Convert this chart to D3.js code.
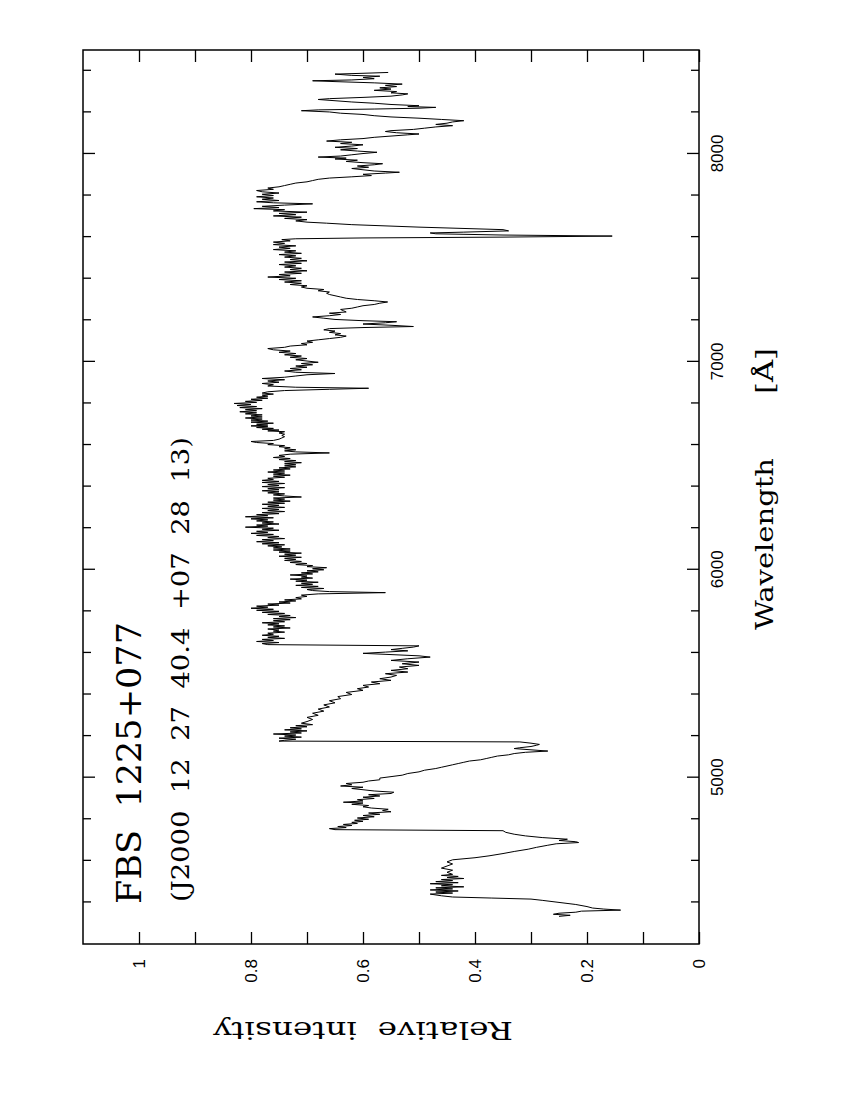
<!DOCTYPE html>
<html>
<head>
<meta charset="utf-8">
<script src="https://cdn.jsdelivr.net/npm/d3@7"></script>
<style>
  html, body { margin: 0; padding: 0; background: #fff; }
  svg { display: block; }
</style>
</head>
<body>
<svg id="chart" width="850" height="1100"></svg>
<script>
// ---- data (wavelength in Angstrom, relative intensity) ----
const spectrum = [
  [4333,0.25],[4338,0.23],[4343,0.26],[4348,0.25],[4353,0.22],[4358,0.21],[4363,0.14],[4368,0.17],[4373,0.19],[4380,0.20],[4390,0.22],[4400,0.25],[4410,0.28],[4416,0.30],[4421,0.37],[4426,0.44],[4432,0.46],[4440,0.48],
  [4445,0.44],[4450,0.47],[4455,0.43],[4460,0.48],[4465,0.44],[4470,0.47],[4475,0.42],[4480,0.46],[4485,0.44],[4490,0.48],[4495,0.43],[4500,0.47],[4505,0.44],[4510,0.46],[4515,0.42],[4520,0.45],[4525,0.43],[4530,0.46],[4535,0.44],[4545,0.45],[4555,0.44],[4565,0.46],[4575,0.45],[4585,0.44],[4595,0.45],
  [4605,0.44],[4615,0.40],[4624,0.375],[4635,0.35],[4645,0.33],[4656,0.305],[4665,0.29],[4675,0.27],[4682,0.255],[4688,0.215],[4692,0.22],[4698,0.25],[4704,0.235],[4712,0.28],[4720,0.31],[4728,0.33],[4737,0.345],[4745,0.35],[4750,0.65],
  [4755,0.66],[4760,0.63],[4765,0.645],[4770,0.62],[4775,0.635],[4780,0.61],[4785,0.62],[4790,0.60],[4795,0.615],[4800,0.59],[4806,0.61],[4812,0.58],[4818,0.60],[4824,0.57],[4830,0.59],[4836,0.55],[4842,0.565],[4848,0.555],[4854,0.585],[4860,0.60],[4866,0.59],[4872,0.62],[4878,0.60],[4882,0.635],[4888,0.60],[4894,0.61],[4900,0.58],[4906,0.60],[4912,0.57],[4918,0.59],[4924,0.55],[4930,0.545],[4936,0.58],[4942,0.60],[4948,0.62],[4954,0.60],[4960,0.64],[4966,0.62],[4972,0.63],[4978,0.60],[4984,0.59],[4990,0.57],
  [4998,0.57],[5005,0.55],[5012,0.53],[5020,0.52],[5028,0.50],[5036,0.49],[5044,0.47],[5050,0.46],[5056,0.45],[5062,0.44],[5068,0.43],[5074,0.42],[5080,0.41],[5086,0.39],[5092,0.38],[5098,0.37],[5104,0.36],[5110,0.34],[5116,0.33],[5122,0.31],[5128,0.27],[5134,0.30],[5140,0.33],[5144,0.32],[5150,0.30],[5156,0.29],[5160,0.285],[5166,0.30],[5172,0.32],[5176,0.75],
  [5180,0.74],[5185,0.72],[5190,0.75],[5195,0.71],[5200,0.74],[5205,0.72],[5210,0.76],[5215,0.71],[5220,0.73],[5225,0.70],[5230,0.74],[5235,0.71],[5240,0.73],[5245,0.70],[5250,0.72],[5255,0.69],[5262,0.71],
  [5270,0.70],[5280,0.69],[5290,0.70],[5300,0.68],[5310,0.69],[5320,0.67],[5330,0.68],[5340,0.66],[5350,0.67],[5360,0.65],[5370,0.66],[5380,0.64],[5390,0.645],[5400,0.62],[5410,0.63],[5420,0.60],[5428,0.61],[5436,0.59],[5444,0.60],[5452,0.57],[5460,0.585],[5468,0.55],[5476,0.57],[5484,0.55],[5492,0.54],[5500,0.56],[5508,0.52],[5516,0.55],[5524,0.52],[5532,0.535],[5540,0.50],[5548,0.53],[5556,0.50],[5564,0.55],[5572,0.52],[5580,0.48],[5586,0.50],[5592,0.55],[5598,0.60],[5604,0.56],[5610,0.52],[5616,0.55],[5622,0.53],[5628,0.51],[5634,0.50],[5640,0.77],
  [5645,0.78],[5650,0.75],[5655,0.79],[5660,0.76],[5665,0.78],[5670,0.74],[5675,0.77],[5680,0.75],[5685,0.78],[5690,0.76],[5695,0.77],[5700,0.74],[5705,0.76],[5710,0.75],[5715,0.77],[5720,0.73],[5725,0.76],[5730,0.74],[5735,0.77],[5740,0.75],[5745,0.78],[5750,0.74],[5755,0.76],[5760,0.73],[5765,0.76],[5770,0.72],[5775,0.75],[5780,0.73],[5785,0.77],[5790,0.74],[5795,0.78],[5800,0.75],[5805,0.79],[5810,0.76],[5815,0.80],[5820,0.77],[5825,0.79],[5830,0.75],[5835,0.77],[5840,0.73],[5845,0.75],[5850,0.72],[5855,0.74],[5860,0.71],[5866,0.72],[5872,0.70],[5878,0.71],[5884,0.68],[5890,0.56],[5895,0.66],[5900,0.69],
  [5905,0.70],[5910,0.67],[5915,0.71],[5920,0.68],[5925,0.72],[5930,0.69],[5935,0.71],[5940,0.68],[5945,0.72],[5950,0.70],[5955,0.73],[5960,0.69],[5965,0.71],[5970,0.70],[5975,0.73],[5980,0.69],[5985,0.71],[5990,0.68],[5995,0.70],[6000,0.67],[6005,0.69],[6010,0.665],[6015,0.70],[6020,0.69],[6025,0.72],[6030,0.70],[6035,0.73],[6040,0.71],[6045,0.74],[6050,0.72],[6055,0.74],[6060,0.71],[6065,0.75],[6070,0.72],[6075,0.74],[6080,0.71],[6085,0.75],[6090,0.73],[6095,0.76],[6100,0.73],[6105,0.76],[6110,0.745],
  [6115,0.77],[6120,0.74],[6125,0.78],[6130,0.75],[6135,0.79],[6140,0.76],[6145,0.78],[6150,0.74],[6155,0.77],[6160,0.75],[6165,0.79],[6170,0.76],[6175,0.80],[6180,0.77],[6185,0.79],[6190,0.75],[6195,0.78],[6200,0.76],[6205,0.81],[6210,0.77],[6215,0.79],[6220,0.75],[6225,0.78],[6230,0.76],[6235,0.79],[6240,0.77],[6245,0.80],[6250,0.76],[6255,0.81],[6260,0.77],[6265,0.79],[6270,0.75],[6275,0.78],[6280,0.74],[6285,0.77],[6290,0.75],[6295,0.78],[6300,0.74],[6305,0.77],[6310,0.75],[6315,0.78],[6320,0.74],[6325,0.77],[6330,0.73],[6335,0.76],[6340,0.74],[6345,0.76],[6350,0.71],[6355,0.74],[6360,0.76],[6365,0.74],[6370,0.77],[6375,0.75],[6380,0.78],[6385,0.75],[6390,0.77],[6395,0.74],[6400,0.78],[6405,0.75],[6410,0.77],[6415,0.74],[6420,0.78],[6425,0.75],[6430,0.78],[6435,0.76],[6440,0.77],[6445,0.74],[6450,0.76],[6455,0.73],[6460,0.76],[6465,0.74],[6470,0.77],[6475,0.74],[6480,0.76],[6485,0.73],[6490,0.75],[6495,0.72],[6500,0.74],[6505,0.72],[6510,0.74],[6515,0.71],[6520,0.74],[6525,0.72],[6530,0.75],[6535,0.73],[6540,0.76],[6545,0.74],[6550,0.75],[6556,0.73],[6562,0.66],[6567,0.72],[6572,0.74],
  [6577,0.72],[6582,0.74],[6587,0.73],[6592,0.75],[6597,0.74],[6602,0.77],[6607,0.76],[6612,0.79],[6617,0.80],[6622,0.76],[6628,0.75],[6634,0.745],[6640,0.74],[6646,0.745],[6652,0.74],[6658,0.75],[6664,0.74],[6668,0.77],[6672,0.75],[6676,0.78],[6680,0.76],[6684,0.79],[6688,0.77],[6692,0.80],[6696,0.77],[6700,0.79],[6705,0.76],[6710,0.80],[6715,0.77],[6720,0.80],[6725,0.78],[6730,0.81],[6735,0.78],[6740,0.80],[6745,0.78],[6750,0.81],[6755,0.79],[6760,0.82],[6765,0.79],[6770,0.81],[6775,0.78],[6780,0.82],[6785,0.79],[6790,0.825],[6795,0.80],[6800,0.83],[6805,0.79],[6810,0.81],[6815,0.78],[6820,0.80],[6825,0.77],[6830,0.79],[6835,0.77],[6840,0.78],[6845,0.76],[6850,0.78],[6856,0.77],[6862,0.74],[6868,0.66],[6873,0.59],[6878,0.72],[6884,0.77],
  [6890,0.76],[6896,0.78],[6902,0.75],[6908,0.77],[6914,0.74],[6920,0.78],[6926,0.74],[6932,0.72],[6938,0.70],[6944,0.65],[6950,0.72],[6956,0.74],[6962,0.71],[6968,0.73],[6974,0.70],[6980,0.72],[6986,0.69],[6992,0.71],[6998,0.68],[7004,0.70],[7010,0.72],[7016,0.70],[7022,0.73],[7028,0.71],[7034,0.74],[7040,0.72],[7046,0.75],[7052,0.73],[7058,0.76],[7064,0.77],[7070,0.74],[7076,0.73],[7082,0.70],[7088,0.71],[7094,0.69],
  [7100,0.70],[7106,0.68],[7112,0.66],[7118,0.64],[7124,0.63],[7130,0.65],[7136,0.64],[7142,0.66],[7148,0.65],[7154,0.67],[7160,0.66],[7165,0.60],[7170,0.51],[7176,0.55],[7182,0.60],[7188,0.56],[7193,0.54],[7198,0.60],[7204,0.65],[7210,0.67],[7216,0.69],[7222,0.66],[7228,0.64],[7234,0.66],[7240,0.63],[7246,0.635],[7252,0.64],[7258,0.62],[7264,0.61],[7270,0.60],[7276,0.58],[7282,0.57],[7288,0.556],[7294,0.58],[7300,0.61],[7306,0.63],[7312,0.64],[7318,0.65],[7324,0.66],[7330,0.665],[7336,0.66],[7342,0.68],[7348,0.67],[7354,0.70],[7360,0.71],[7366,0.70],[7372,0.73],[7378,0.71],
  [7384,0.74],[7390,0.71],[7396,0.75],[7402,0.72],[7408,0.77],[7414,0.73],[7420,0.75],[7426,0.71],[7432,0.74],[7438,0.70],[7444,0.73],[7450,0.71],[7456,0.74],[7462,0.72],[7468,0.75],[7474,0.71],[7480,0.74],[7486,0.70],[7492,0.73],[7498,0.71],[7504,0.74],[7510,0.72],[7516,0.75],[7522,0.71],[7528,0.74],[7534,0.72],[7540,0.76],[7546,0.73],[7552,0.75],[7558,0.72],[7564,0.76],[7570,0.74],[7576,0.76],[7582,0.73],[7588,0.745],
  [7592,0.72],[7596,0.60],[7600,0.35],[7605,0.155],[7610,0.35],[7616,0.47],[7620,0.48],[7624,0.42],[7630,0.34],[7636,0.35],[7648,0.50],[7660,0.62],[7667,0.665],
  [7672,0.70],[7678,0.72],[7684,0.70],[7690,0.74],[7696,0.71],[7702,0.76],[7708,0.72],[7714,0.75],[7720,0.70],[7726,0.76],[7732,0.74],[7737,0.795],[7742,0.75],[7748,0.78],[7754,0.74],[7760,0.69],[7765,0.76],[7770,0.79],[7776,0.75],[7782,0.78],[7788,0.76],[7794,0.79],[7800,0.76],[7806,0.78],[7812,0.75],[7818,0.78],[7824,0.79],[7830,0.76],[7836,0.77],[7842,0.75],[7848,0.74],[7854,0.73],[7860,0.72],[7866,0.70],[7872,0.69],[7878,0.68],
  [7884,0.66],[7890,0.62],[7896,0.585],[7902,0.60],[7908,0.56],[7912,0.535],[7918,0.58],[7924,0.60],[7930,0.62],[7936,0.59],[7942,0.61],[7948,0.58],[7953,0.565],[7958,0.60],[7964,0.63],[7970,0.61],[7976,0.65],[7980,0.63],[7985,0.68],[7990,0.64],[7996,0.62],[8002,0.60],[8008,0.575],[8014,0.61],[8020,0.64],[8026,0.61],[8032,0.65],[8038,0.62],[8044,0.60],[8050,0.64],[8056,0.62],[8062,0.665],
  [8068,0.64],[8074,0.60],[8080,0.58],[8086,0.55],[8092,0.52],[8096,0.50],[8102,0.54],[8108,0.56],[8112,0.55],[8118,0.51],[8124,0.49],[8130,0.47],[8136,0.44],[8142,0.47],[8148,0.45],[8154,0.44],[8160,0.42],[8166,0.46],[8172,0.50],[8178,0.55],[8184,0.58],[8190,0.60],[8196,0.64],[8202,0.66],[8208,0.71],[8212,0.68],[8216,0.58],[8220,0.50],[8224,0.47],[8228,0.52],[8232,0.50],[8238,0.55],[8244,0.58],[8250,0.62],[8256,0.65],[8262,0.68],[8266,0.66],[8272,0.60],[8278,0.55],[8284,0.53],[8289,0.52],[8294,0.55],[8300,0.54],[8306,0.58],[8312,0.55],[8318,0.57],[8324,0.54],[8330,0.56],[8336,0.53],[8342,0.58],[8348,0.65],[8352,0.69],[8356,0.62],[8362,0.58],[8368,0.60],[8374,0.57],[8378,0.62],[8384,0.65],[8388,0.60],[8392,0.555]
];
const wavelengthDomain = [4200, 8500];
const intensityDomain = [0, 1.1];
const wavelengthMinorTicks = [4400,4600,4800,5200,5400,5600,5800,6200,6400,6600,6800,7200,7400,7600,7800,8200,8400];
const wavelengthMajorTicks = [5000,6000,7000,8000];
const intensityTicks = [0,0.1,0.2,0.3,0.4,0.5,0.6,0.7,0.8,0.9,1.0];
const intensityLabelValues = [0,0.2,0.4,0.6,0.8,1.0];
const intensityLabelTexts = ["0","0.2","0.4","0.6","0.8","1"];
const titleText = "FBS  1225+077";
const subtitleText = "(J2000  12  27  40.4  +07  28  13)";
const xLabelText = "Wavelength";
const xUnitText = "[\u00C5]";
const yLabelText = "Relative  intensity";

// ---- layout (landscape frame, then rotated onto the portrait page) ----
const W = 850, H = 1100;
const L = { left: 156, right: 1050, top: 83, bottom: 699 };

const svg = d3.select("#chart");
const g = svg.append("g").attr("transform", `translate(0,${H}) rotate(-90)`);

const x = d3.scaleLinear().domain(wavelengthDomain).range([L.left, L.right]);
const y = d3.scaleLinear().domain(intensityDomain).range([L.bottom, L.top]);

// spectrum
const line = d3.line().x(d => x(d[0])).y(d => y(d[1]));
g.append("path")
  .datum(spectrum)
  .attr("d", line)
  .attr("fill", "none")
  .attr("stroke", "#000")
  .attr("stroke-width", 1)
  .attr("stroke-linejoin", "miter");

// axes
function styleAxis(sel) {
  sel.select(".domain").remove();
  sel.selectAll(".tick line").attr("stroke", "#000").attr("stroke-width", 1.3);
}
const labelFont = '"Liberation Sans", Arial, sans-serif';

// wavelength bottom (page right)
g.append("g").attr("transform", `translate(0,${L.bottom})`)
  .call(d3.axisBottom(x).tickValues(wavelengthMinorTicks).tickSize(-8).tickFormat(() => ""))
  .call(styleAxis);
g.append("g").attr("transform", `translate(0,${L.bottom})`)
  .call(d3.axisBottom(x).tickValues(wavelengthMajorTicks).tickSize(-12).tickPadding(12).tickFormat(d3.format("d")))
  .call(styleAxis)
  .call(s => s.selectAll("text").attr("font-size", 17).attr("font-family", labelFont).attr("fill", "#000"));
// wavelength top (page left)
g.append("g").attr("transform", `translate(0,${L.top})`)
  .call(d3.axisTop(x).tickValues(wavelengthMinorTicks).tickSize(-8).tickFormat(() => ""))
  .call(styleAxis);
g.append("g").attr("transform", `translate(0,${L.top})`)
  .call(d3.axisTop(x).tickValues(wavelengthMajorTicks).tickSize(-12).tickFormat(() => ""))
  .call(styleAxis);

// intensity left (page bottom)
const labelMap = new Map(intensityLabelValues.map((v, i) => [v, intensityLabelTexts[i]]));
g.append("g").attr("transform", `translate(${L.left},0)`)
  .call(d3.axisLeft(y).tickValues(intensityTicks).tickSize(-12).tickPadding(15)
    .tickFormat(d => labelMap.has(d) ? labelMap.get(d) : ""))
  .call(styleAxis)
  .call(s => s.selectAll("text").attr("font-size", 17).attr("font-family", labelFont).attr("fill", "#000"));
// intensity right (page top)
g.append("g").attr("transform", `translate(${L.right},0)`)
  .call(d3.axisRight(y).tickValues(intensityTicks).tickSize(-12).tickFormat(() => ""))
  .call(styleAxis);

// frame
g.append("rect")
  .attr("x", L.left).attr("y", L.top)
  .attr("width", L.right - L.left).attr("height", L.bottom - L.top)
  .attr("fill", "none").attr("stroke", "#000").attr("stroke-width", 1.5);

// texts
const serif = '"DejaVu Serif", "Liberation Serif", serif';
function addText(txt, px, py, size, len) {
  return g.append("text")
    .attr("x", px).attr("y", py)
    .attr("font-family", serif).attr("font-size", size)
    .attr("fill", "#000")
    .attr("xml:space", "preserve")
    .style("white-space", "pre")
    .attr("textLength", len).attr("lengthAdjust", "spacingAndGlyphs")
    .text(txt);
}
addText(titleText, 196, 141, 33, 282);
addText(subtitleText, 198, 189, 25, 465);
addText(xLabelText, 470, 773, 24, 172);
addText(xUnitText, 706, 773, 24, 46);
g.append("text")
  .attr("transform", `translate(78,363) rotate(-90)`)
  .attr("text-anchor", "middle")
  .attr("font-family", serif).attr("font-size", 24)
  .attr("fill", "#000")
  .attr("xml:space", "preserve")
  .style("white-space", "pre")
  .attr("textLength", 300).attr("lengthAdjust", "spacingAndGlyphs")
  .text(yLabelText);
</script>
</body>
</html>
